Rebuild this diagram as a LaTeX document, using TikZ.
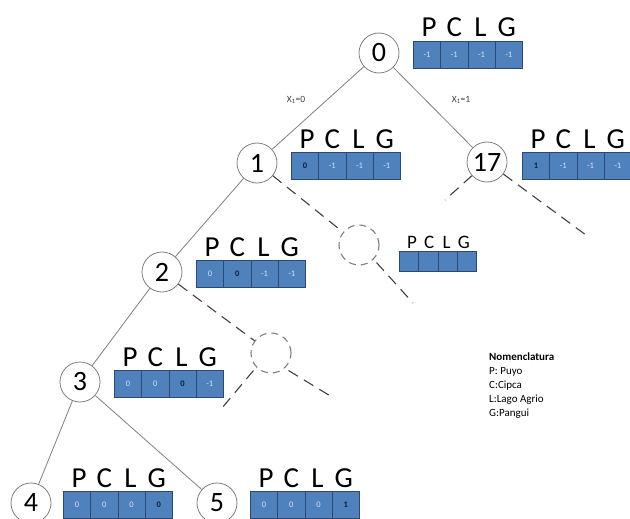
\documentclass[tikz,border=0pt]{standalone}
\usepackage{fontspec}
\setmainfont{Carlito}
\usetikzlibrary{positioning}
\definecolor{cellblue}{HTML}{4F81BD}
\definecolor{celledge}{HTML}{2C4A70}
\definecolor{lighttxt}{HTML}{D6E2F3}
\definecolor{darktxt}{HTML}{0E1E38}
\definecolor{treegray}{HTML}{7F7F7F}
\tikzset{
  treenode/.style={circle,draw=treegray,line width=0.8pt,minimum size=40pt,inner sep=0pt,font=\fontsize{28}{28}\selectfont,fill=white},
  ghostnode/.style={circle,draw=treegray,line width=1.1pt,dash pattern=on 7pt off 5pt,minimum size=40pt,inner sep=0pt},
  edge/.style={draw=treegray,line width=0.8pt},
  ghostedge/.style={draw=black!75,line width=1.1pt,dash pattern=on 11pt off 7pt},
  cellbox/.style={draw=celledge,fill=cellblue,line width=0.8pt,minimum width=27.25pt,minimum height=27pt,inner sep=0pt,anchor=north west,font=\fontsize{8.5}{8.5}\selectfont},
  smallcell/.style={draw=celledge,fill=cellblue,line width=0.8pt,minimum width=19.25pt,minimum height=20pt,inner sep=0pt,anchor=north west},
  lbl/.style={font=\fontsize{29}{29}\selectfont,anchor=base,inner sep=0pt},
  smalllbl/.style={font=\fontsize{19}{19}\selectfont,anchor=base,inner sep=0pt},
  xlbl/.style={font=\fontsize{9.5}{9.5}\selectfont,text=black!75},
  nomen/.style={font=\fontsize{11}{14}\selectfont,align=left,anchor=north west,inner sep=0pt}
}
\newcommand{\lv}[1]{\textcolor{lighttxt}{#1}}
\newcommand{\dv}[1]{\textcolor{darktxt}{\bfseries #1}}
% #1 name, #2 x, #3 y (top-left), #4..#7 values
\newcommand{\regrow}[7]{%
  \node[cellbox] (#1a) at (#2,#3) {#4};
  \node[cellbox] (#1b) at (#2+27.25,#3) {#5};
  \node[cellbox] (#1c) at (#2+54.5,#3) {#6};
  \node[cellbox] (#1d) at (#2+81.75,#3) {#7};
  \node[lbl] (#1P) at ([xshift=2pt,yshift=4pt]#1a.north) {P};
  \node[lbl] (#1C) at ([yshift=4pt]#1b.north) {C};
  \node[lbl] (#1L) at ([xshift=-1pt,yshift=4pt]#1c.north) {L};
  \node[lbl] (#1G) at ([xshift=-2pt,yshift=4pt]#1d.north) {G};
}
\begin{document}
\begin{tikzpicture}[x=1pt,y=-1pt]
\useasboundingbox (0,0) rectangle (630,519);
% tree nodes
\node[treenode] (n0) at (379,53) {0};
\node[treenode] (n17) at (487,162) {17};
\node[treenode] (n1) at (257,163) {1};
\node[treenode] (n2) at (162,272) {2};
\node[treenode] (n3) at (80,382) {3};
\node[treenode] (n4) at (31,503) {4};
\node[treenode] (n5) at (217,503) {5};
\node[ghostnode] (g1) at (359,245) {};
\node[ghostnode] (g2) at (271,353) {};
% free ends of dashed connectors
\coordinate (e17l) at (445,200);
\coordinate (e17r) at (590,238);
\coordinate (eg1r) at (413,303);
\coordinate (eg2l) at (222,408);
\coordinate (eg2r) at (332,397);
% solid connectors
\draw[edge] (n0) -- (n1);
\draw[edge] (n0) -- (n17);
\draw[edge] (n1) -- (n2);
\draw[edge] (n2) -- (n3);
\draw[edge] (n3) -- (n4);
\draw[edge] (n3) -- (n5);
% dashed connectors
\draw[ghostedge] (n1) -- (g1);
\draw[ghostedge] (n2) -- (g2);
\draw[ghostedge] ([shift={(3,3)}]g1.-45) -- (eg1r);
\draw[ghostedge] ([shift={(-3,3)}]g2.-135) -- (eg2l);
\draw[ghostedge] ([shift={(3,3)}]g2.-45) -- (eg2r);
\draw[ghostedge] (n17) -- (e17l);
\draw[ghostedge] (n17) -- (e17r);
% branch labels
\node[xlbl] (x0) at (296,100) {X\textsubscript{1}=0};
\node[xlbl] (x1) at (461,100) {X\textsubscript{1}=1};
% registers
\regrow{r0}{413}{41}{\lv{-1}}{\lv{-1}}{\lv{-1}}{\lv{-1}}
\regrow{r1}{291}{152}{\dv{0}}{\lv{-1}}{\lv{-1}}{\lv{-1}}
\regrow{r17}{522}{152}{\dv{1}}{\lv{-1}}{\lv{-1}}{\lv{-1}}
\regrow{r2}{196}{260}{\lv{0}}{\dv{0}}{\lv{-1}}{\lv{-1}}
\regrow{r3}{114}{370}{\lv{0}}{\lv{0}}{\dv{0}}{\lv{-1}}
\regrow{r4}{63}{491}{\lv{0}}{\lv{0}}{\lv{0}}{\dv{0}}
\regrow{r5}{250}{491}{\lv{0}}{\lv{0}}{\lv{0}}{\dv{1}}
% small empty register
\node[smallcell] (sa) at (399,251) {};
\node[smallcell] (sb) at (418.25,251) {};
\node[smallcell] (sc) at (437.5,251) {};
\node[smallcell] (sd) at (456.75,251) {};
\node[smalllbl] (sP) at ([xshift=3pt,yshift=3pt]sa.north) {P};
\node[smalllbl] (sC) at ([xshift=1pt,yshift=3pt]sb.north) {C};
\node[smalllbl] (sL) at ([xshift=-1pt,yshift=3pt]sc.north) {L};
\node[smalllbl] (sG) at ([xshift=-3pt,yshift=3pt]sd.north) {G};
% legend
\node[nomen] (legend) at (489,353) {\textbf{Nomenclatura}\\P: Puyo\\C:Cipca\\L:Lago Agrio\\G:Pangui};
\end{tikzpicture}
\end{document}
